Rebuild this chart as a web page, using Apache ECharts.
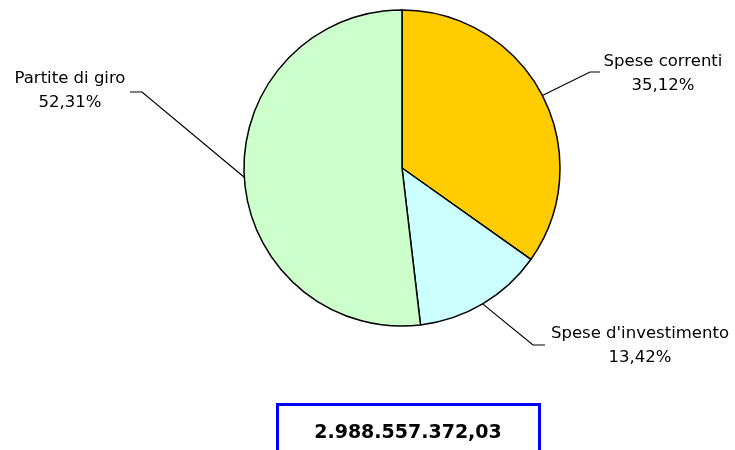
<!DOCTYPE html>
<html>
<head>
<meta charset="utf-8">
<script src="https://cdn.jsdelivr.net/npm/echarts@6/dist/echarts.min.js"></script>
<style>
  html, body { margin: 0; padding: 0; background: #fff; }
  #chart { width: 735px; height: 450px; }
</style>
</head>
<body>
<div id="chart"></div>
<script>
// data
const categories = ['Spese correnti', "Spese d'investimento", 'Partite di giro']
const percents = [35.12, 13.42, 52.31]
const totalLabel = '2.988.557.372,03'

// where each label block sits (centre x, centre y) and the elbow of its line
const labelSpots = [
  { x: 663, y: 74, elbow: [590, 72], end: [600, 72] },
  { x: 640, y: 346, elbow: [533, 345], end: [545, 345] },
  { x: 70, y: 91, elbow: [142, 92], end: [130, 92] }
]

const fmt = v => v.toFixed(2).replace('.', ',') + '%'

const chart = echarts.init(document.getElementById('chart'))
chart.setOption({
  animation: false,
  color: ['#FFCC00', '#CCFFFF', '#CCFFCC'],
  series: [
    {
      type: 'pie',
      center: [402, 168],
      radius: 158,
      startAngle: 90,
      clockwise: true,
      itemStyle: {
        borderColor: '#000',
        borderWidth: 1.5
      },
      label: {
        show: true,
        formatter: p => p.name + '\n' + fmt(p.value),
        fontFamily: 'DejaVu Sans',
        fontSize: 16.5,
        lineHeight: 24,
        color: '#000',
        align: 'center'
      },
      labelLine: {
        show: true,
        lineStyle: { color: '#000', width: 1.2 }
      },
      labelLayout: params => {
        const s = labelSpots[params.dataIndex]
        const start = params.labelLinePoints ? params.labelLinePoints[0] : s.elbow
        return {
          x: s.x,
          y: s.y,
          align: 'center',
          verticalAlign: 'middle',
          labelLinePoints: [start, s.elbow, s.end]
        }
      },
      emphasis: { disabled: true },
      data: categories.map((name, i) => ({ name, value: percents[i] }))
    }
  ],
  graphic: [
    {
      type: 'rect',
      shape: { x: 277.5, y: 404.5, width: 262, height: 60 },
      style: { fill: '#fff', stroke: '#0000FF', lineWidth: 3 }
    },
    {
      type: 'text',
      x: 408,
      y: 433,
      style: {
        text: totalLabel,
        fontFamily: 'DejaVu Sans',
        fontWeight: 'bold',
        fontSize: 19,
        fill: '#000',
        align: 'center',
        verticalAlign: 'middle'
      }
    }
  ]
})
</script>
</body>
</html>
